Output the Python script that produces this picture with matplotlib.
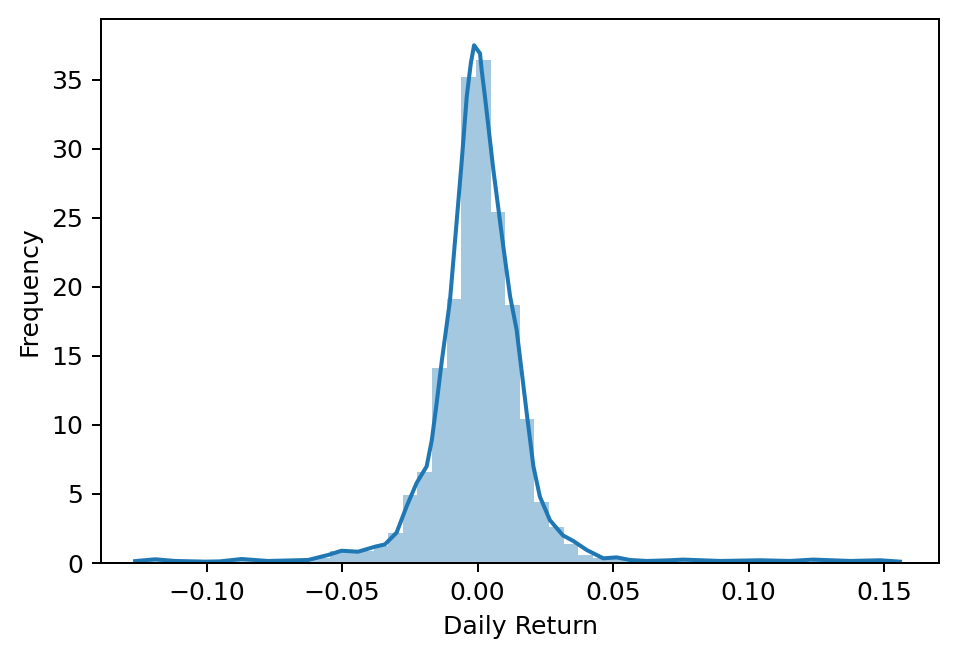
import matplotlib
matplotlib.use("Agg")
import matplotlib.pyplot as plt

# histogram bins (left edges, uniform width) and density heights
bin_left = [-0.1248, -0.1194, -0.1140, -0.1086, -0.1032, -0.0978, -0.0924, -0.0870,
            -0.0816, -0.0762, -0.0708, -0.0654, -0.0600, -0.0546, -0.0492, -0.0438,
            -0.0384, -0.0330, -0.0276, -0.0222, -0.0168, -0.0114, -0.0060, -0.0006,
            0.0048, 0.0102, 0.0156, 0.0210, 0.0264, 0.0318, 0.0372, 0.0426,
            0.0480, 0.0534, 0.0588, 0.0642, 0.0696, 0.0750, 0.0804, 0.0858,
            0.0912, 0.0966, 0.1020, 0.1074, 0.1128, 0.1182, 0.1236, 0.1290,
            0.1344, 0.1398, 0.1452, 0.1506]
bin_width = 0.0054
bin_height = [0.15, 0.2, 0.1, 0.05, 0.1, 0.05, 0.2, 0.3,
              0.15, 0.1, 0.15, 0.2, 0.4, 0.9, 0.8, 0.9,
              1.2, 2.2, 4.9, 6.6, 14.1, 19.1, 35.2, 36.4,
              25.4, 18.7, 10.4, 4.4, 2.6, 1.4, 0.6, 0.4,
              0.3, 0.2, 0.15, 0.1, 0.2, 0.25, 0.15, 0.1,
              0.15, 0.1, 0.2, 0.25, 0.2, 0.1, 0.15, 0.2,
              0.1, 0.15, 0.2, 0.1]

# density curve points
kde_x = [-0.1264, -0.1190, -0.1116, -0.1005, -0.0951, -0.0871, -0.0774, -0.0626,
         -0.0552, -0.0502, -0.0441, -0.0379, -0.0342, -0.0299, -0.0262, -0.0225,
         -0.0188, -0.0169, -0.0151, -0.0133, -0.0102, -0.0080, -0.0059, -0.0040,
         -0.0025, -0.0013, 0.0009, 0.0015, 0.0027, 0.0058, 0.0095, 0.0120,
         0.0144, 0.0181, 0.0206, 0.0230, 0.0267, 0.0315, 0.0353, 0.0403,
         0.0464, 0.0513, 0.0563, 0.0624, 0.0710, 0.0758, 0.0895, 0.1043,
         0.1153, 0.1238, 0.1375, 0.1485, 0.1559]
kde_y = [0.14, 0.27, 0.15, 0.10, 0.12, 0.29, 0.15, 0.22,
         0.58, 0.89, 0.82, 1.18, 1.35, 2.2, 4.1, 5.8,
         7.0, 8.9, 11.6, 14.5, 19.0, 24.1, 29.0, 33.8,
         36.2, 37.5, 36.9, 35.7, 33.8, 28.5, 22.9, 19.3,
         16.9, 10.9, 7.0, 4.8, 3.1, 2.0, 1.6, 0.94,
         0.34, 0.41, 0.22, 0.15, 0.20, 0.25, 0.15, 0.20,
         0.15, 0.25, 0.15, 0.20, 0.10]

fig = plt.figure(figsize=(958 / 181, 654 / 181), dpi=181)
ax = fig.add_axes([0.1054, 0.1391, 0.8748, 0.8318])

ax.bar(bin_left, bin_height, width=bin_width, align="edge",
       color="#1f77b4", alpha=0.4, linewidth=0)
ax.plot(kde_x, kde_y, color="#1f77b4", lw=1.6)

ax.set_xlim(-0.139, 0.1703)
ax.set_ylim(0, 39.4)
ax.set_xticks([-0.10, -0.05, 0.00, 0.05, 0.10, 0.15])
ax.set_yticks([0, 5, 10, 15, 20, 25, 30, 35])
ax.set_xlabel("Daily Return")
ax.set_ylabel("Frequency")

fig.savefig("out.png", dpi=181)
